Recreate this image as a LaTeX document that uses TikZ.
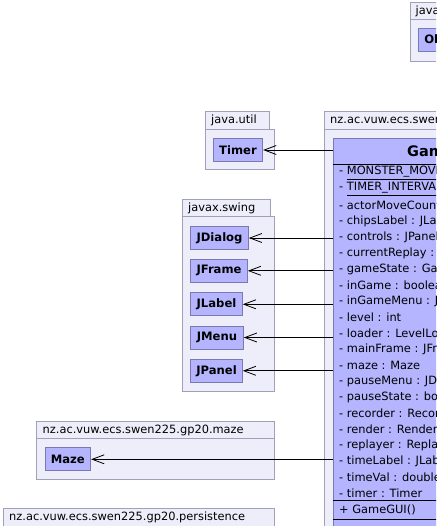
\documentclass[tikz,border=0pt]{standalone}
\usepackage{fontspec}
\setmainfont{DejaVu Sans}
\usetikzlibrary{arrows.meta}
\definecolor{pkgfill}{RGB}{238,238,251}
\definecolor{pkgdraw}{RGB}{160,160,184}
\definecolor{clsfill}{RGB}{180,180,255}
\definecolor{clsdraw}{RGB}{122,122,176}
\begin{document}
\begin{tikzpicture}[x=1pt,y=-1pt,
  pkg/.style={fill=pkgfill, draw=pkgdraw, line width=0.9pt},
  pkglabel/.style={anchor=west, inner sep=0pt, font=\fontsize{11.4}{13}\selectfont},
  cls/.style={fill=clsfill, draw=clsdraw, line width=0.9pt, inner sep=0pt, minimum height=23pt, font=\fontsize{11.6}{13}\selectfont\bfseries},
  field/.style={anchor=west, inner sep=0pt, font=\fontsize{11.4}{13}\selectfont},
  sep/.style={draw=black, line width=0.9pt},
  dep/.style={-{Straight Barb[length=12pt,width=9pt,line width=0.8pt]}, line width=0.9pt, draw=black}]
\useasboundingbox (0,0) rectangle (436,526);
\clip (0,0) rectangle (436,526);
% java.lang
\draw[pkg] (410.5,2.5) rectangle (480,19.5);
\draw[pkg] (410.5,19.5) rectangle (480,61);
\node[pkglabel] (langlbl) at (415.5,11) {java.lang};
\node[cls, minimum width=54pt] (object) at (445.5,40) {Object};
% java.util
\draw[pkg] (205.7,111.7) rectangle (269.3,129.3);
\draw[pkg] (205.7,129.3) rectangle (274.7,169);
\node[pkglabel] (utillbl) at (211,120.5) {java.util};
\node[cls, minimum width=49.4pt] (timer) at (238,150) {Timer};
% javax.swing
\draw[pkg] (182.7,199.3) rectangle (270,216.7);
\draw[pkg] (182.7,216.7) rectangle (274.3,391.7);
\node[pkglabel] (swinglbl) at (188,208) {javax.swing};
\node[cls, minimum width=57.6pt] (jdialog) at (219.5,238) {JDialog};
\node[cls, minimum width=56.6pt] (jframe) at (219,270.8) {JFrame};
\node[cls, minimum width=51.6pt] (jlabel) at (216.5,304.3) {JLabel};
\node[cls, minimum width=52.6pt] (jmenu) at (217,337.5) {JMenu};
\node[cls, minimum width=51.6pt] (jpanel) at (216.5,370.8) {JPanel};
% maze
\draw[pkg] (36.7,421) rectangle (274,438.5);
\draw[pkg] (36.7,438.5) rectangle (274,479);
\node[pkglabel] (mazelbl) at (42.5,430) {nz.ac.vuw.ecs.swen225.gp20.maze};
\node[cls, minimum width=45.7pt] (maze) at (67.8,459.3) {Maze};
% persistence
\draw[pkg] (3.3,508) rectangle (274,527);
\draw[pkg] (3.3,527) rectangle (274,560);
\node[pkglabel] (perslbl) at (9,517.5) {nz.ac.vuw.ecs.swen225.gp20.persistence};
% gui package
\draw[pkg] (324.5,111.7) rectangle (640,129.3);
\draw[pkg] (324.5,129.3) rectangle (640,620);
\node[pkglabel] (guilbl) at (330,120.5) {nz.ac.vuw.ecs.swen225.gp20.gui};
\node[fill=clsfill, draw=clsdraw, line width=0.9pt, inner sep=0pt, minimum width=300pt, minimum height=450pt, anchor=north west] (gui) at (332.5,138.3) {};
\node[anchor=west, inner sep=0pt, font=\fontsize{14.5}{16}\selectfont\bfseries] (guiname) at (407,151.5) {GameGUI};
\draw[sep] (332.5,164) -- (632,164);
\foreach \t [count=\i from 0] in {%
  {\underline{MONSTER\_MOVE\_INTERVAL : int}},
  {\underline{TIMER\_INTERVAL : int}},
  {actorMoveCount : int},
  {chipsLabel : JLabel},
  {controls : JPanel},
  {currentReplay : Replay},
  {gameState : GameState},
  {inGame : boolean},
  {inGameMenu : JMenu},
  {level : int},
  {loader : LevelLoader},
  {mainFrame : JFrame},
  {maze : Maze},
  {pauseMenu : JDialog},
  {pauseState : boolean},
  {recorder : Recorder},
  {render : Renderer},
  {replayer : Replayer},
  {timeLabel : JLabel},
  {timeVal : double},
  {timer : Timer}}
  \node[field] (f\i) at (339,173+16*\i) {- \t};
\draw[sep] (332.5,500.8) -- (632,500.8);
\node[field] (m0) at (339,510) {+ GameGUI()};
\draw[sep] (332.5,519.5) -- (632,519.5);
% dependencies
\draw[dep] (gui.west |- timer.east) -- (timer.east);
\draw[dep] (gui.west |- jdialog.east) -- (jdialog.east);
\draw[dep] (gui.west |- jframe.east) -- (jframe.east);
\draw[dep] (gui.west |- jlabel.east) -- (jlabel.east);
\draw[dep] (gui.west |- jmenu.east) -- (jmenu.east);
\draw[dep] (gui.west |- jpanel.east) -- (jpanel.east);
\draw[dep] (gui.west |- maze.east) -- (maze.east);
\end{tikzpicture}
\end{document}
